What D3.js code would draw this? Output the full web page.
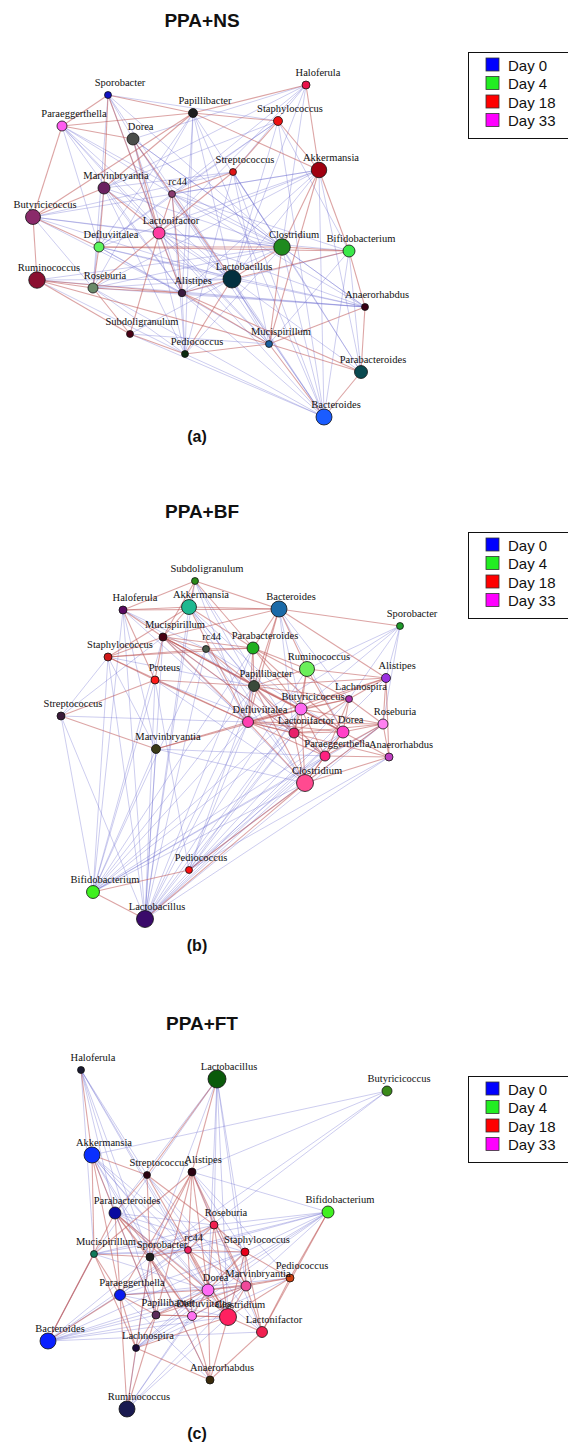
<!DOCTYPE html>
<html>
<head>
<meta charset="utf-8">
<script src="https://cdn.jsdelivr.net/npm/d3@7"></script>
<style>
  html, body { margin: 0; padding: 0; background: #fff; }
  svg { display: block; }
</style>
</head>
<body>
<svg id="chart" width="568" height="1444"></svg>
<script>
// ---------- Legend ----------
const legendDays = ["Day 0", "Day 4", "Day 18", "Day 33"];
const legendColors = ["#0000ff", "#22ee22", "#ff0000", "#ff00ff"];

// ---------- Panel (a): PPA+NS ----------
const aNames = ["Sporobacter","Paraeggerthella","Dorea","Papillibacter","Haloferula","Staphylococcus","Streptococcus","Akkermansia","Marvinbryantia","rc44","Butyricicoccus","Lactonifactor","Defluviitalea","Clostridium","Bifidobacterium","Ruminococcus","Roseburia","Lactobacillus","Alistipes","Anaerorhabdus","Subdoligranulum","Pediococcus","Mucispirillum","Parabacteroides","Bacteroides"];
const aX = [108,62,133,193,306,278,233,319,104,172,33,159,99,282,349,37,93,232,182,365,130,185,269,361,324];
const aY = [95,126,139,113,85,121,172,170,188,194,217,233,247,247,251,280,288,279,293,307,334,354,344,372,417];
const aSize = [12,25,36,20,16,20,12,60,36,12,56,36,25,68,36,68,25,81,14,12,12,12,12,42,64];
const aColor = ["#1212c4","#ff5cf0","#4a4d4a","#1e1e1e","#e8104a","#ee1111","#e01515","#a00010","#6a2060","#8a3a70","#8a2a6a","#ff3da0","#5cf55c","#1f8a1f","#3ae84a","#8a0f30","#6a8a6a","#03303f","#3a1a40","#3a0015","#4a0015","#0a2a10","#1a60a0","#0a4a50","#1a5cff"];
const aPos = [
  ["Sporobacter","Paraeggerthella"],["Sporobacter","Marvinbryantia"],["Sporobacter","Lactonifactor"],["Sporobacter","Papillibacter"],
  ["Paraeggerthella","Papillibacter"],["Paraeggerthella","Dorea"],["Paraeggerthella","Butyricicoccus"],
  ["Papillibacter","Haloferula"],["Papillibacter","Staphylococcus"],["Papillibacter","Akkermansia"],["Papillibacter","Marvinbryantia"],["Papillibacter","Butyricicoccus"],
  ["Haloferula","Akkermansia"],["Staphylococcus","Akkermansia"],["Staphylococcus","Streptococcus"],["Streptococcus","rc44"],["Streptococcus","Lactonifactor"],
  ["Akkermansia","Clostridium"],["Akkermansia","Bifidobacterium"],["Akkermansia","Mucispirillum"],
  ["Dorea","Lactonifactor"],["Dorea","Lactobacillus"],["Marvinbryantia","Butyricicoccus"],["Marvinbryantia","Defluviitalea"],["Marvinbryantia","Lactonifactor"],
  ["rc44","Lactonifactor"],["rc44","Alistipes"],["Butyricicoccus","Ruminococcus"],["Butyricicoccus","Defluviitalea"],
  ["Lactonifactor","Subdoligranulum"],["Lactonifactor","Alistipes"],["Lactonifactor","Roseburia"],
  ["Defluviitalea","Bifidobacterium"],["Defluviitalea","Roseburia"],["Defluviitalea","Clostridium"],
  ["Clostridium","Bifidobacterium"],["Clostridium","Lactobacillus"],["Clostridium","Mucispirillum"],
  ["Lactobacillus","Bifidobacterium"],["Lactobacillus","Alistipes"],["Lactobacillus","Pediococcus"],["Bifidobacterium","Anaerorhabdus"],
  ["Ruminococcus","Roseburia"],["Ruminococcus","Alistipes"],["Ruminococcus","Subdoligranulum"],["Ruminococcus","Mucispirillum"],
  ["Roseburia","Subdoligranulum"],["Roseburia","Alistipes"],["Alistipes","Mucispirillum"],["Alistipes","Parabacteroides"],
  ["Subdoligranulum","Pediococcus"],["Pediococcus","Mucispirillum"],["Mucispirillum","Anaerorhabdus"],["Mucispirillum","Bacteroides"],
  ["Mucispirillum","Parabacteroides"],["Anaerorhabdus","Parabacteroides"],["Parabacteroides","Bacteroides"]
];
const aNeg = [
  ["Sporobacter","Dorea"],["Sporobacter","Alistipes"],["Sporobacter","Lactobacillus"],["Sporobacter","Clostridium"],["Sporobacter","Staphylococcus"],["Sporobacter","Roseburia"],
  ["Paraeggerthella","Lactobacillus"],["Paraeggerthella","Alistipes"],["Paraeggerthella","Lactonifactor"],["Paraeggerthella","rc44"],["Paraeggerthella","Clostridium"],["Paraeggerthella","Mucispirillum"],["Paraeggerthella","Defluviitalea"],
  ["Dorea","Clostridium"],["Dorea","Mucispirillum"],["Dorea","Bacteroides"],["Dorea","Alistipes"],["Dorea","Pediococcus"],["Dorea","Anaerorhabdus"],
  ["Papillibacter","Lactobacillus"],["Papillibacter","Pediococcus"],["Papillibacter","Alistipes"],["Papillibacter","Clostridium"],["Papillibacter","Bacteroides"],["Papillibacter","Defluviitalea"],["Papillibacter","Roseburia"],
  ["Haloferula","Lactonifactor"],["Haloferula","rc44"],["Haloferula","Marvinbryantia"],["Haloferula","Dorea"],["Haloferula","Streptococcus"],["Haloferula","Clostridium"],["Haloferula","Lactobacillus"],
  ["Staphylococcus","Marvinbryantia"],["Staphylococcus","rc44"],["Staphylococcus","Lactobacillus"],["Staphylococcus","Defluviitalea"],["Staphylococcus","Bifidobacterium"],["Staphylococcus","Bacteroides"],
  ["Streptococcus","Butyricicoccus"],["Streptococcus","Marvinbryantia"],["Streptococcus","Clostridium"],["Streptococcus","Pediococcus"],["Streptococcus","Mucispirillum"],["Streptococcus","Bacteroides"],["Streptococcus","Parabacteroides"],
  ["Akkermansia","Lactonifactor"],["Akkermansia","Defluviitalea"],["Akkermansia","rc44"],["Akkermansia","Alistipes"],["Akkermansia","Roseburia"],["Akkermansia","Butyricicoccus"],["Akkermansia","Lactobacillus"],["Akkermansia","Bacteroides"],["Akkermansia","Parabacteroides"],
  ["Marvinbryantia","Lactobacillus"],["Marvinbryantia","Alistipes"],["Marvinbryantia","Clostridium"],["Marvinbryantia","Pediococcus"],["Marvinbryantia","Roseburia"],
  ["rc44","Clostridium"],["rc44","Bifidobacterium"],["rc44","Pediococcus"],["rc44","Bacteroides"],["rc44","Defluviitalea"],["rc44","Anaerorhabdus"],
  ["Butyricicoccus","Lactonifactor"],["Butyricicoccus","Clostridium"],["Butyricicoccus","Alistipes"],["Butyricicoccus","Lactobacillus"],["Butyricicoccus","Roseburia"],
  ["Lactonifactor","Clostridium"],["Lactonifactor","Lactobacillus"],["Lactonifactor","Mucispirillum"],["Lactonifactor","Bacteroides"],["Lactonifactor","Anaerorhabdus"],["Lactonifactor","Bifidobacterium"],
  ["Defluviitalea","Lactobacillus"],["Defluviitalea","Alistipes"],["Defluviitalea","Mucispirillum"],["Defluviitalea","Anaerorhabdus"],
  ["Clostridium","Bacteroides"],["Clostridium","Parabacteroides"],["Clostridium","Anaerorhabdus"],["Clostridium","Alistipes"],["Clostridium","Pediococcus"],["Clostridium","Roseburia"],
  ["Bifidobacterium","Bacteroides"],["Bifidobacterium","Mucispirillum"],["Bifidobacterium","Parabacteroides"],["Bifidobacterium","Alistipes"],
  ["Ruminococcus","Lactobacillus"],["Ruminococcus","Clostridium"],["Ruminococcus","Anaerorhabdus"],["Ruminococcus","Pediococcus"],
  ["Roseburia","Lactobacillus"],["Roseburia","Anaerorhabdus"],["Roseburia","Bacteroides"],["Roseburia","Pediococcus"],
  ["Lactobacillus","Bacteroides"],["Lactobacillus","Subdoligranulum"],["Lactobacillus","Mucispirillum"],["Lactobacillus","Parabacteroides"],["Lactobacillus","Anaerorhabdus"],
  ["Alistipes","Bacteroides"],["Alistipes","Anaerorhabdus"],["Alistipes","Pediococcus"],["Subdoligranulum","Mucispirillum"],["Subdoligranulum","Bacteroides"],["Pediococcus","Bacteroides"]
];

// ---------- Panel (b): PPA+BF ----------
const bNames = ["Subdoligranulum","Akkermansia","Haloferula","Bacteroides","Sporobacter","Mucispirillum","rc44","Staphylococcus","Parabacteroides","Ruminococcus","Proteus","Papillibacter","Alistipes","Lachnospira","Butyricicoccus","Defluviitalea","Roseburia","Lactonifactor","Dorea","Paraeggerthella","Anaerorhabdus","Streptococcus","Marvinbryantia","Clostridium","Pediococcus","Bifidobacterium","Lactobacillus"];
const bX = [195,189,123,279,400,163,206,108,253,307,155,254,386,349,301,248,383,294,343,325,389,61,156,305,189,93,145];
const bY = [91,117,120,119,136,147,159,167,158,179,190,196,188,209,219,232,234,243,242,266,267,226,259,293,380,402,429];
const bSize = [12,56,16,64,12,16,12,16,36,56,16,30,20,12,36,30,25,25,36,25,16,16,20,72,12,42,72];
const bColor = ["#2a8a1a","#1fb890","#5a0a60","#1a6aa8","#1f9a2a","#4a0012","#4a5a4a","#d01818","#20b020","#6aef5a","#ff1a1a","#3a4a3a","#9a30e0","#b030b0","#ff6af0","#ff40b0","#ff80f0","#e8206a","#ff40c8","#ff2080","#c040c0","#3a1a3a","#3a3a18","#ff4a90","#ff1010","#40f020","#3a0a6a"];
const bPos = [
  ["Subdoligranulum","Haloferula"],["Subdoligranulum","Akkermansia"],["Subdoligranulum","Bacteroides"],["Subdoligranulum","Mucispirillum"],["Subdoligranulum","Parabacteroides"],
  ["Haloferula","Akkermansia"],["Haloferula","Mucispirillum"],["Haloferula","Proteus"],["Haloferula","Bacteroides"],
  ["Akkermansia","Bacteroides"],["Akkermansia","Mucispirillum"],["Akkermansia","Parabacteroides"],["Akkermansia","Staphylococcus"],["Akkermansia","Defluviitalea"],
  ["Bacteroides","Sporobacter"],["Bacteroides","Parabacteroides"],["Bacteroides","Papillibacter"],["Bacteroides","Alistipes"],["Bacteroides","Ruminococcus"],["Bacteroides","Defluviitalea"],["Bacteroides","Mucispirillum"],
  ["Mucispirillum","Staphylococcus"],["Mucispirillum","Proteus"],["Mucispirillum","rc44"],["Mucispirillum","Papillibacter"],["Mucispirillum","Defluviitalea"],["Mucispirillum","Butyricicoccus"],["Mucispirillum","Parabacteroides"],["Mucispirillum","Dorea"],["Mucispirillum","Lactonifactor"],
  ["Staphylococcus","Proteus"],["Staphylococcus","rc44"],["Staphylococcus","Defluviitalea"],["Staphylococcus","Parabacteroides"],
  ["Streptococcus","Proteus"],["Streptococcus","Marvinbryantia"],["Proteus","Defluviitalea"],["Proteus","Papillibacter"],
  ["Marvinbryantia","Defluviitalea"],["Marvinbryantia","Butyricicoccus"],["rc44","Parabacteroides"],["rc44","Papillibacter"],
  ["Parabacteroides","Ruminococcus"],["Parabacteroides","Papillibacter"],["Parabacteroides","Defluviitalea"],["Parabacteroides","Butyricicoccus"],["Parabacteroides","Dorea"],["Parabacteroides","Lachnospira"],
  ["Ruminococcus","Papillibacter"],["Ruminococcus","Butyricicoccus"],["Ruminococcus","Lactonifactor"],["Ruminococcus","Alistipes"],["Ruminococcus","Dorea"],
  ["Papillibacter","Defluviitalea"],["Papillibacter","Butyricicoccus"],["Papillibacter","Lactonifactor"],["Papillibacter","Clostridium"],["Papillibacter","Alistipes"],["Papillibacter","Paraeggerthella"],["Papillibacter","Dorea"],["Papillibacter","Lachnospira"],
  ["Alistipes","Lachnospira"],["Alistipes","Roseburia"],["Alistipes","Anaerorhabdus"],["Alistipes","Butyricicoccus"],["Alistipes","Defluviitalea"],
  ["Lachnospira","Butyricicoccus"],["Lachnospira","Dorea"],["Lachnospira","Roseburia"],["Lachnospira","Defluviitalea"],["Lachnospira","Lactonifactor"],["Lachnospira","Paraeggerthella"],
  ["Butyricicoccus","Defluviitalea"],["Butyricicoccus","Lactonifactor"],["Butyricicoccus","Dorea"],["Butyricicoccus","Roseburia"],["Butyricicoccus","Paraeggerthella"],["Butyricicoccus","Clostridium"],
  ["Defluviitalea","Lactonifactor"],["Defluviitalea","Dorea"],["Defluviitalea","Roseburia"],["Defluviitalea","Paraeggerthella"],["Defluviitalea","Clostridium"],["Defluviitalea","Anaerorhabdus"],
  ["Lactonifactor","Dorea"],["Lactonifactor","Paraeggerthella"],["Lactonifactor","Clostridium"],["Lactonifactor","Roseburia"],
  ["Dorea","Roseburia"],["Dorea","Paraeggerthella"],["Dorea","Anaerorhabdus"],["Dorea","Clostridium"],
  ["Roseburia","Anaerorhabdus"],["Roseburia","Paraeggerthella"],["Roseburia","Clostridium"],["Paraeggerthella","Anaerorhabdus"],["Paraeggerthella","Clostridium"],
  ["Clostridium","Anaerorhabdus"],["Clostridium","Lactobacillus"],["Clostridium","Pediococcus"],["Bifidobacterium","Pediococcus"],["Bifidobacterium","Lactobacillus"]
];
const bNeg = [
  ["Lactobacillus","Streptococcus"],["Lactobacillus","Staphylococcus"],["Lactobacillus","Haloferula"],["Lactobacillus","Mucispirillum"],["Lactobacillus","Proteus"],["Lactobacillus","rc44"],["Lactobacillus","Akkermansia"],["Lactobacillus","Subdoligranulum"],["Lactobacillus","Parabacteroides"],["Lactobacillus","Papillibacter"],["Lactobacillus","Defluviitalea"],["Lactobacillus","Butyricicoccus"],["Lactobacillus","Lactonifactor"],["Lactobacillus","Dorea"],["Lactobacillus","Paraeggerthella"],["Lactobacillus","Lachnospira"],["Lactobacillus","Roseburia"],["Lactobacillus","Anaerorhabdus"],["Lactobacillus","Alistipes"],["Lactobacillus","Marvinbryantia"],["Lactobacillus","Ruminococcus"],
  ["Bifidobacterium","Streptococcus"],["Bifidobacterium","Staphylococcus"],["Bifidobacterium","Proteus"],["Bifidobacterium","Mucispirillum"],["Bifidobacterium","rc44"],["Bifidobacterium","Marvinbryantia"],["Bifidobacterium","Papillibacter"],["Bifidobacterium","Defluviitalea"],["Bifidobacterium","Butyricicoccus"],["Bifidobacterium","Lactonifactor"],["Bifidobacterium","Dorea"],["Bifidobacterium","Paraeggerthella"],["Bifidobacterium","Clostridium"],["Bifidobacterium","Roseburia"],["Bifidobacterium","Haloferula"],["Bifidobacterium","Parabacteroides"],
  ["Pediococcus","Proteus"],["Pediococcus","Defluviitalea"],["Pediococcus","Papillibacter"],["Pediococcus","Butyricicoccus"],["Pediococcus","Dorea"],["Pediococcus","Roseburia"],["Pediococcus","Anaerorhabdus"],["Pediococcus","Lactonifactor"],["Pediococcus","Paraeggerthella"],
  ["Streptococcus","Staphylococcus"],["Streptococcus","Defluviitalea"],["Streptococcus","Mucispirillum"],
  ["Sporobacter","Ruminococcus"],["Sporobacter","Lachnospira"],["Sporobacter","Butyricicoccus"],["Sporobacter","Defluviitalea"],["Sporobacter","Alistipes"],["Sporobacter","Roseburia"],
  ["Haloferula","Marvinbryantia"],["Haloferula","rc44"],["Haloferula","Defluviitalea"],["Haloferula","Papillibacter"],
  ["Staphylococcus","Marvinbryantia"],["Staphylococcus","Papillibacter"],
  ["Akkermansia","Papillibacter"],["Akkermansia","Lactonifactor"],["Akkermansia","Butyricicoccus"],["Akkermansia","Clostridium"],
  ["Subdoligranulum","Papillibacter"],["Subdoligranulum","Defluviitalea"],["Subdoligranulum","Lactonifactor"],
  ["Bacteroides","Butyricicoccus"],["Bacteroides","Lactonifactor"],["Bacteroides","Dorea"],["Bacteroides","Lachnospira"],
  ["Mucispirillum","Clostridium"],["Mucispirillum","Paraeggerthella"],
  ["rc44","Defluviitalea"],["rc44","Lactonifactor"],["rc44","Clostridium"],["rc44","Dorea"],
  ["Marvinbryantia","Clostridium"],["Marvinbryantia","Paraeggerthella"],["Proteus","Lactonifactor"],["Proteus","Clostridium"]
];

// ---------- Panel (c): PPA+FT ----------
const cNames = ["Haloferula","Lactobacillus","Butyricicoccus","Akkermansia","Streptococcus","Alistipes","Parabacteroides","Bifidobacterium","Roseburia","Mucispirillum","Sporobacter","rc44","Staphylococcus","Pediococcus","Marvinbryantia","Dorea","Paraeggerthella","Papillibacter","Defluviitalea","Clostridium","Lactonifactor","Bacteroides","Lachnospira","Anaerorhabdus","Ruminococcus"];
const cX = [81,217,387,92,147,192,115,328,214,94,150,188,245,290,246,208,120,156,192,228,262,48,136,210,127];
const cY = [70,79,91,155,175,172,213,212,225,254,257,250,252,278,286,290,295,315,316,317,332,341,348,380,409];
const cSize = [12,81,25,64,12,16,36,36,16,12,16,12,16,16,25,36,30,16,20,72,30,64,12,16,64];
const cColor = ["#1a1a30","#0a5a0a","#3a8a1a","#0a30ff","#2a0010","#2a0010","#0a0aa0","#40f020","#f02050","#107a5a","#202020","#f02060","#e8001a","#d04010","#f04a9a","#ff6af5","#0a1af0","#5a2a5a","#ff70f0","#ff2060","#f02050","#0a20ff","#1a0a3a","#3a2a0a","#1a1a50"];
const cPos = [
  ["Haloferula","Akkermansia"],["Lactobacillus","Alistipes"],["Lactobacillus","Streptococcus"],
  ["Akkermansia","Streptococcus"],["Akkermansia","Parabacteroides"],["Akkermansia","Paraeggerthella"],["Akkermansia","Mucispirillum"],
  ["Streptococcus","Roseburia"],["Streptococcus","Clostridium"],["Streptococcus","Sporobacter"],["Streptococcus","Parabacteroides"],
  ["Alistipes","Sporobacter"],["Alistipes","rc44"],["Alistipes","Mucispirillum"],["Alistipes","Paraeggerthella"],["Alistipes","Dorea"],["Alistipes","Marvinbryantia"],["Alistipes","Roseburia"],["Alistipes","Papillibacter"],
  ["Parabacteroides","Sporobacter"],["Parabacteroides","Papillibacter"],["Parabacteroides","Defluviitalea"],["Parabacteroides","Dorea"],["Parabacteroides","Clostridium"],
  ["Bifidobacterium","Pediococcus"],["Bifidobacterium","Lactonifactor"],
  ["Roseburia","rc44"],["Roseburia","Staphylococcus"],["Roseburia","Marvinbryantia"],["Roseburia","Dorea"],["Roseburia","Clostridium"],["Roseburia","Sporobacter"],
  ["Mucispirillum","Sporobacter"],["Mucispirillum","Paraeggerthella"],["Mucispirillum","Bacteroides"],["Mucispirillum","Lachnospira"],
  ["Sporobacter","rc44"],["Sporobacter","Papillibacter"],["Sporobacter","Lachnospira"],["Sporobacter","Defluviitalea"],["Sporobacter","Anaerorhabdus"],
  ["rc44","Staphylococcus"],["rc44","Dorea"],["rc44","Clostridium"],["rc44","Defluviitalea"],["rc44","Marvinbryantia"],
  ["Staphylococcus","Marvinbryantia"],["Staphylococcus","Clostridium"],["Staphylococcus","Lactonifactor"],["Staphylococcus","Pediococcus"],["Staphylococcus","Dorea"],
  ["Pediococcus","Marvinbryantia"],["Pediococcus","Lactonifactor"],["Pediococcus","Dorea"],["Pediococcus","Clostridium"],
  ["Marvinbryantia","Dorea"],["Marvinbryantia","Clostridium"],["Marvinbryantia","Lactonifactor"],["Marvinbryantia","Defluviitalea"],["Marvinbryantia","Papillibacter"],
  ["Dorea","Defluviitalea"],["Dorea","Clostridium"],["Dorea","Papillibacter"],["Dorea","Anaerorhabdus"],
  ["Paraeggerthella","Papillibacter"],["Paraeggerthella","Bacteroides"],["Paraeggerthella","Lachnospira"],["Paraeggerthella","Dorea"],
  ["Papillibacter","Defluviitalea"],["Papillibacter","Clostridium"],["Papillibacter","Lachnospira"],["Papillibacter","Ruminococcus"],
  ["Defluviitalea","Clostridium"],["Defluviitalea","Anaerorhabdus"],["Clostridium","Lactonifactor"],["Clostridium","Anaerorhabdus"],["Lactonifactor","Anaerorhabdus"],
  ["Lachnospira","Ruminococcus"],["Lachnospira","Anaerorhabdus"],["Lachnospira","Clostridium"],["Bacteroides","Parabacteroides"],["Ruminococcus","Parabacteroides"]
];
const cNeg = [
  ["Haloferula","Parabacteroides"],["Haloferula","Streptococcus"],["Haloferula","Sporobacter"],["Haloferula","rc44"],["Haloferula","Dorea"],["Haloferula","Mucispirillum"],["Haloferula","Papillibacter"],
  ["Lactobacillus","Staphylococcus"],["Lactobacillus","Roseburia"],["Lactobacillus","Dorea"],["Lactobacillus","Marvinbryantia"],["Lactobacillus","Parabacteroides"],["Lactobacillus","Sporobacter"],["Lactobacillus","Clostridium"],["Lactobacillus","Mucispirillum"],
  ["Butyricicoccus","Akkermansia"],["Butyricicoccus","Alistipes"],["Butyricicoccus","Sporobacter"],["Butyricicoccus","Paraeggerthella"],
  ["Akkermansia","Sporobacter"],["Akkermansia","rc44"],["Akkermansia","Dorea"],["Akkermansia","Clostridium"],["Akkermansia","Papillibacter"],["Akkermansia","Defluviitalea"],["Akkermansia","Marvinbryantia"],
  ["Bifidobacterium","Alistipes"],["Bifidobacterium","Roseburia"],["Bifidobacterium","Staphylococcus"],["Bifidobacterium","Sporobacter"],["Bifidobacterium","Dorea"],["Bifidobacterium","Papillibacter"],["Bifidobacterium","rc44"],["Bifidobacterium","Marvinbryantia"],["Bifidobacterium","Lachnospira"],["Bifidobacterium","Mucispirillum"],
  ["Bacteroides","Mucispirillum"],["Bacteroides","Sporobacter"],["Bacteroides","rc44"],["Bacteroides","Dorea"],["Bacteroides","Clostridium"],["Bacteroides","Marvinbryantia"],["Bacteroides","Papillibacter"],["Bacteroides","Defluviitalea"],["Bacteroides","Lactonifactor"],["Bacteroides","Staphylococcus"],["Bacteroides","Roseburia"],
  ["Ruminococcus","Clostridium"],["Ruminococcus","Dorea"],["Ruminococcus","Defluviitalea"],["Ruminococcus","Sporobacter"],["Ruminococcus","Marvinbryantia"],
  ["Anaerorhabdus","Paraeggerthella"],["Anaerorhabdus","Sporobacter"],
  ["Lachnospira","Dorea"],["Lachnospira","Marvinbryantia"],["Lachnospira","Staphylococcus"],["Lachnospira","Pediococcus"],
  ["Mucispirillum","rc44"],["Mucispirillum","Staphylococcus"],["Mucispirillum","Roseburia"],["Mucispirillum","Dorea"],
  ["Paraeggerthella","Staphylococcus"],["Paraeggerthella","Marvinbryantia"],["Paraeggerthella","Clostridium"],["Paraeggerthella","Pediococcus"],
  ["Streptococcus","Lactonifactor"],["Streptococcus","Marvinbryantia"],
  ["Parabacteroides","rc44"],["Parabacteroides","Roseburia"],["Parabacteroides","Staphylococcus"],["Parabacteroides","Lactonifactor"],
  ["Alistipes","Staphylococcus"],["Alistipes","Lactonifactor"],["Alistipes","Pediococcus"]
];

// ---------- Panel layout ----------
const panels = [
  { title: "PPA+NS", tag: "(a)", top: 0,    titleY: 27,   tagY: 442,  legendY: 52,
    names: aNames, xs: aX, ys: aY, sizes: aSize, colors: aColor, pos: aPos, neg: aNeg },
  { title: "PPA+BF", tag: "(b)", top: 490,  titleY: 518,  tagY: 951,  legendY: 532,
    names: bNames, xs: bX, ys: bY, sizes: bSize, colors: bColor, pos: bPos, neg: bNeg },
  { title: "PPA+FT", tag: "(c)", top: 1000, titleY: 1030, tagY: 1439, legendY: 1076,
    names: cNames, xs: cX, ys: cY, sizes: cSize, colors: cColor, pos: cPos, neg: cNeg }
];

const svg = d3.select("#chart");
const rScale = d3.scaleSqrt().domain([0, 81]).range([0, 9]);
const xScale = d3.scaleLinear().domain([0, 420]).range([0, 420]);

panels.forEach(p => {
  const yScale = d3.scaleLinear().domain([0, 460]).range([p.top, p.top + 460]);
  const nodes = p.names.map((n, i) => ({ name: n, x: p.xs[i], y: p.ys[i], size: p.sizes[i], color: p.colors[i] }));
  const byName = new Map(nodes.map(d => [d.name, d]));
  const g = svg.append("g");

  // title
  g.append("text")
    .attr("x", 202).attr("y", p.titleY)
    .attr("text-anchor", "middle")
    .attr("font-family", "Liberation Sans, Arial, sans-serif")
    .attr("font-weight", "bold").attr("font-size", 19)
    .attr("fill", "#111")
    .text(p.title);

  // edges: negative correlations in blue, positive in red
  const edgeG = g.append("g");
  const drawEdges = (list, stroke, opacity, width) => {
    edgeG.append("g").selectAll("line").data(list).join("line")
      .attr("x1", d => xScale(byName.get(d[0]).x))
      .attr("y1", d => yScale(byName.get(d[0]).y))
      .attr("x2", d => xScale(byName.get(d[1]).x))
      .attr("y2", d => yScale(byName.get(d[1]).y))
      .attr("stroke", stroke).attr("stroke-opacity", opacity)
      .attr("stroke-width", width);
  };
  drawEdges(p.neg, "#6a6ad0", 0.42, 0.8);
  drawEdges(p.pos, "#c05a5a", 0.55, 1.1);

  // nodes
  g.append("g").selectAll("circle").data(nodes).join("circle")
    .attr("cx", d => xScale(d.x))
    .attr("cy", d => yScale(d.y))
    .attr("r", d => rScale(d.size))
    .attr("fill", d => d.color)
    .attr("stroke", "#111").attr("stroke-width", 0.8);

  // labels
  g.append("g").selectAll("text").data(nodes).join("text")
    .attr("x", d => xScale(d.x))
    .attr("y", d => yScale(d.y) - 9)
    .attr("text-anchor", "middle")
    .attr("font-family", "Liberation Serif, Times New Roman, serif")
    .attr("font-size", 10.5)
    .attr("fill", "#111")
    .text(d => d.name)
    .attr("dx", function() { return Math.min(12, this.getComputedTextLength() * 0.3); });

  // panel tag
  g.append("text")
    .attr("x", 197).attr("y", p.tagY)
    .attr("text-anchor", "middle")
    .attr("font-family", "Liberation Sans, Arial, sans-serif")
    .attr("font-weight", "bold").attr("font-size", 16)
    .attr("fill", "#111")
    .text(p.tag);

  // legend
  const lg = g.append("g").attr("transform", `translate(468,${p.legendY})`);
  lg.append("rect").attr("x", 0.5).attr("y", 0.5).attr("width", 110).attr("height", 86)
    .attr("fill", "#fff").attr("stroke", "#111").attr("stroke-width", 1);
  const rows = lg.selectAll("g.row").data(legendDays).join("g")
    .attr("class", "row")
    .attr("transform", (d, i) => `translate(18,${13 + i * 18.5})`);
  rows.append("rect").attr("x", 0).attr("y", -7).attr("width", 13).attr("height", 13)
    .attr("fill", (d, i) => legendColors[i]).attr("stroke", "#333").attr("stroke-width", 0.8);
  rows.append("text").attr("x", 22).attr("y", 5.5)
    .attr("font-family", "Liberation Sans, Arial, sans-serif")
    .attr("font-size", 15).attr("fill", "#111")
    .text(d => d);
});
</script>
</body>
</html>
